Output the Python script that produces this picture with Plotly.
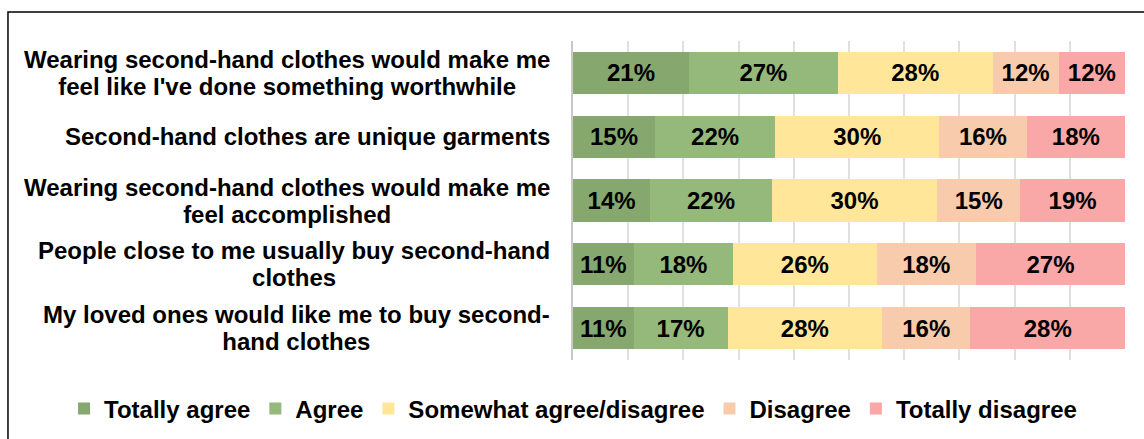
import plotly.graph_objects as go

# Survey statements (top to bottom), each given as its display lines
statements = [
    ["Wearing second-hand clothes would make me", "feel like I've done something worthwhile"],
    ["Second-hand clothes are unique garments"],
    ["Wearing second-hand clothes would make me", "feel accomplished"],
    ["People close to me usually buy second-hand", "clothes"],
    ["My loved ones would like me to buy second-", "hand clothes"],
]
row_keys = ["s1", "s2", "s3", "s4", "s5"]

responses = ["Totally agree", "Agree", "Somewhat agree/disagree", "Disagree", "Totally disagree"]
totally_agree = [21, 15, 14, 11, 11]
agree = [27, 22, 22, 18, 17]
somewhat = [28, 30, 30, 26, 28]
disagree = [12, 16, 15, 18, 16]
totally_disagree = [12, 18, 19, 27, 28]

series = [totally_agree, agree, somewhat, disagree, totally_disagree]
colors = ["#86A86F", "#95B87B", "#FFE699", "#F8CBAD", "#FAA7A7"]

FONT = "Liberation Sans, Arial, sans-serif"
TEXT_SIZE = 24

fig = go.Figure()
for name, vals, col in zip(responses, series, colors):
    fig.add_trace(go.Bar(
        name=name,
        y=row_keys,
        x=vals,
        orientation="h",
        marker=dict(color=col, line=dict(width=0)),
        text=[f"{v}%" for v in vals],
        textposition="inside",
        insidetextanchor="middle",
        textangle=0,
        constraintext="none",
        textfont=dict(family=FONT, size=TEXT_SIZE, color="black", weight="bold"),
        hoverinfo="skip",
    ))

# Statement labels, right-aligned next to the bars, lines centred on each other.
# The base font size sets a tighter line pitch; each line is drawn at full size.
for key, lines in zip(row_keys, statements):
    label = "<br>".join(f'<span style="font-size:{TEXT_SIZE}px">{ln}</span>' for ln in lines)
    fig.add_annotation(
        xref="paper", yref="y", x=-0.038, y=key,
        text=label, showarrow=False,
        xanchor="right", yanchor="middle", align="center",
        font=dict(family=FONT, size=20.5, color="black", weight="bold"),
    )

# Outer frame around the chart
fig.add_shape(
    type="rect", xref="paper", yref="paper",
    x0=-1.0236, x1=1.06, y0=-0.3, y1=1.0909,
    line=dict(color="black", width=1.5), fillcolor="rgba(0,0,0,0)", layer="below",
)

fig.update_layout(
    width=1144, height=439,
    margin=dict(l=573, r=19, t=41, b=79, autoexpand=False),
    paper_bgcolor="white", plot_bgcolor="white",
    barmode="stack", barnorm="percent", bargap=0.34,
    showlegend=True,
    legend=dict(
        orientation="h", x=-0.922, xanchor="left", y=-0.1536, yanchor="middle",
        font=dict(family=FONT, size=TEXT_SIZE, color="black", weight="bold"),
        itemwidth=30, traceorder="normal", bgcolor="rgba(0,0,0,0)",
    ),
    xaxis=dict(
        range=[0, 100], dtick=10, showticklabels=False, showgrid=True,
        gridcolor="#E0E0E0", gridwidth=1.5, zeroline=False, showline=False,
        fixedrange=True,
    ),
    yaxis=dict(
        autorange="reversed", showticklabels=False, showgrid=False,
        showline=True, linecolor="#C8C8C8", linewidth=1.5, zeroline=False,
        fixedrange=True,
    ),
)

fig.write_html("out.html")
